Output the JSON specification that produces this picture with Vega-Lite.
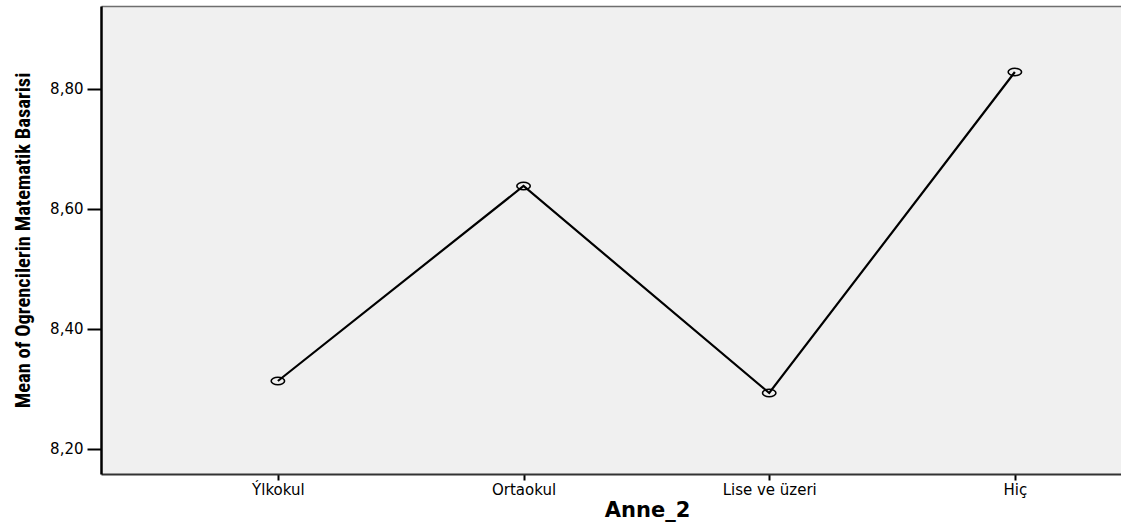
{
  "$schema": "https://vega.github.io/schema/vega-lite/v6.json",
  "autosize": {"type": "none"},
  "padding": {"left": 101, "top": 6, "right": 0, "bottom": 48},
  "width": 1020,
  "height": 468,
  "background": "white",
  "config": {
    "locale": {"number": {"decimal": ",", "thousands": ".", "grouping": [3], "currency": ["", ""]}},
    "view": {"fill": "#f0f0f0", "stroke": null}
  },
  "data": {
    "values": [
      {"Anne_2": "Ýlkokul", "mean": 8.313},
      {"Anne_2": "Ortaokul", "mean": 8.638},
      {"Anne_2": "Lise ve üzeri", "mean": 8.293},
      {"Anne_2": "Hiç", "mean": 8.828}
    ]
  },
  "resolve": {"axis": {"x": "independent"}},
  "layer": [
    {
      "mark": {"type": "line", "color": "#000", "strokeWidth": 2.2},
      "encoding": {
        "x": {
          "field": "Anne_2",
          "type": "ordinal",
          "sort": null,
          "scale": {"type": "point", "padding": 0.576, "align": 0.625},
          "axis": {
            "title": "Anne_2",
            "labelAngle": 0,
            "labelFont": "DejaVu Sans",
            "labelFontSize": 15,
            "labelColor": "#000",
            "labelPadding": 2,
            "tickSize": 6,
            "tickWidth": 2,
            "tickColor": "#000",
            "domainColor": "#333",
            "domainWidth": 2,
            "titleFont": "DejaVu Sans",
            "titleFontWeight": "bold",
            "titleFontSize": 21,
            "titleColor": "#000",
            "titleX": 546,
            "titleY": 36,
            "titleAlign": "center",
            "titleBaseline": "middle",
            "grid": false
          }
        },
        "y": {
          "field": "mean",
          "type": "quantitative",
          "scale": {"domain": [8.158, 8.938], "zero": false, "nice": false},
          "axis": {
            "title": "Mean of Ogrencilerin Matematik Basarisi",
            "values": [8.2, 8.4, 8.6, 8.8],
            "format": ".2f",
            "grid": false,
            "labelFont": "DejaVu Sans",
            "labelFontSize": 15,
            "labelColor": "#000",
            "labelPadding": 4,
            "tickSize": 14,
            "tickWidth": 2,
            "tickColor": "#000",
            "domainColor": "#000",
            "domainWidth": 2.5,
            "titleFont": "Liberation Sans Narrow, Roboto Condensed, Liberation Sans",
            "titleFontWeight": "bold",
            "titleFontSize": 20.5,
            "titleColor": "#000",
            "titleAngle": -90,
            "titleX": -78,
            "titleY": 234,
            "titleAlign": "center",
            "titleBaseline": "middle"
          }
        }
      }
    },
    {
      "mark": {"type": "point", "shape": "M -1 0 A 1 0.55 0 1 0 1 0 A 1 0.55 0 1 0 -1 0 Z", "size": 180, "filled": false, "stroke": "#000", "strokeWidth": 1.6, "opacity": 1},
      "encoding": {
        "x": {
          "field": "Anne_2",
          "type": "ordinal",
          "sort": null,
          "axis": {"orient": "top", "labels": false, "ticks": false, "title": null, "domainColor": "#6e6e6e", "domainWidth": 1.5, "grid": false}
        },
        "y": {"field": "mean", "type": "quantitative"}
      }
    }
  ]
}
